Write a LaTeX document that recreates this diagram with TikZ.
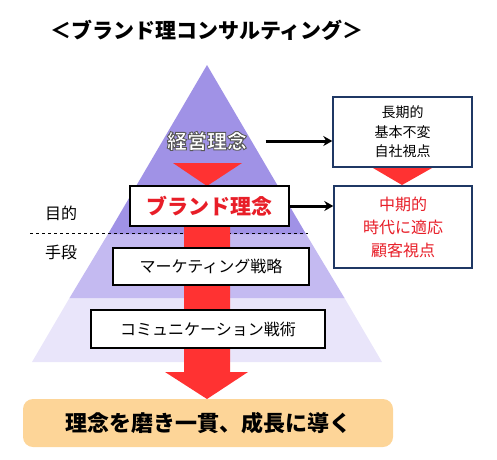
\documentclass[tikz,border=0pt]{standalone}
\usepackage{fontspec}
\setmainfont{Noto Sans CJK JP}
\usetikzlibrary{arrows.meta, positioning, calc}

\definecolor{pyrtop}{RGB}{160,146,230}
\definecolor{pyrmid}{RGB}{196,186,241}
\definecolor{pyrlow}{RGB}{233,229,250}
\definecolor{flowred}{RGB}{255,50,50}
\definecolor{textred}{RGB}{232,30,40}
\definecolor{navy}{RGB}{31,56,100}
\definecolor{goalfill}{RGB}{253,213,152}

% white letters with a grey stroke round them
\newcommand{\outlinetext}[1]{%
  \special{pdf:literal direct 2 Tr 0.9 w 0.35 0.35 0.35 RG}#1\special{pdf:literal direct 0 Tr}}

\tikzset{
  stagebox/.style={draw=black, fill=white, line width=1.6pt, inner sep=0pt},
  notebox/.style={draw=navy, fill=white, line width=1.4pt, inner sep=0pt, align=center},
  linkarrow/.style={-{Stealth[length=9pt, width=10pt]}, line width=3pt},
}

\begin{document}
\begin{tikzpicture}[x=1pt, y=-1pt]
  \useasboundingbox (0,0) rectangle (497,459);

  % Title
  \node[font=\fontsize{21}{25}\selectfont\bfseries] (title) at (207,30)
    {＜ブランド理コンサルティング＞};

  % Pyramid layers
  \fill[pyrlow] (69.5,298) -- (344.5,298) -- (382,362) -- (32,362) -- cycle;
  \fill[pyrmid] (108,234) -- (306,234) -- (344.5,298) -- (69.5,298) -- cycle;
  \fill[pyrtop] (207,65) -- (306,234) -- (108,234) -- cycle;

  % Purpose / means divider
  \draw[dashed, line width=1pt] (30,233) -- (308,233);
  \node[font=\fontsize{16}{18}\selectfont] (purpose) at (61,213) {目的};
  \node[font=\fontsize{16}{18}\selectfont] (means) at (61,252) {手段};

  % Red flow arrow through the pyramid
  \fill[flowred] (184,200) -- (230,200) -- (230,372) -- (248,372)
    -- (207,399) -- (165,372) -- (184,372) -- cycle;
  \fill[flowred] (173,163) -- (242,163) -- (207,186) -- cycle;

  % Management philosophy (outlined white text)
  \node[font=\fontsize{20}{24}\selectfont\bfseries, text=white] (kei) at (207,141)
    {\outlinetext{経営理念}};

  % Stage boxes
  \node[stagebox, line width=2pt, minimum width=159pt, minimum height=40pt,
    font=\fontsize{21}{24}\selectfont\bfseries, text=textred] (brand) at (209.5,206) {ブランド理念};
  \node[stagebox, minimum width=196pt, minimum height=37pt,
    font=\fontsize{16}{18}\selectfont] (mkt) at (211,266.5) {マーケティング戦略};
  \node[stagebox, minimum width=234pt, minimum height=38pt,
    font=\fontsize{16}{18}\selectfont] (comm) at (208,329) {コミュニケーション戦術};

  % Side notes
  \node[notebox, minimum width=139pt, minimum height=70pt,
    font=\fontsize{14}{19.5}\selectfont] (long) at (402.5,132) {長期的\\基本不変\\自社視点};
  \node[notebox, minimum width=138pt, minimum height=82pt, text=textred,
    font=\fontsize{16}{23}\selectfont] (mid) at (403,227) {中期的\\時代に適応\\顧客視点};
  \fill[flowred] (373,168) -- (432,168) -- (402,185) -- cycle;

  \draw[linkarrow] ([xshift=15pt]kei.east) -- (kei.east -| long.west);
  \draw[linkarrow] (brand.east) -- (brand.east -| mid.west);

  % Goal
  \node[fill=goalfill, rounded corners=10pt, minimum width=370pt, minimum height=48pt,
    font=\fontsize{22}{26}\selectfont\bfseries] (goal) at (208,423) {理念を磨き一貫、成長に導く};
\end{tikzpicture}
\end{document}
